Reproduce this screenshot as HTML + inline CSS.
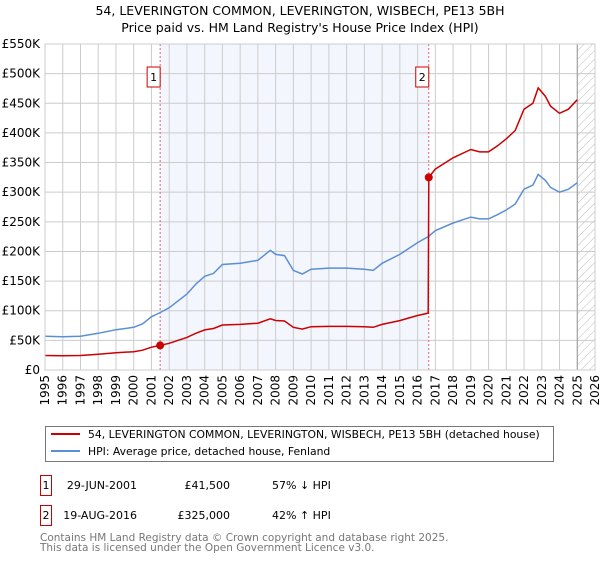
<!DOCTYPE html>
<html><head><meta charset="utf-8"><style>
body{margin:0;background:#fff;font-family:"Liberation Sans","DejaVu Sans",sans-serif;}
svg text{font-family:"DejaVu Sans","Liberation Sans",sans-serif;}
</style></head><body>
<svg id="chart" width="600" height="560" xmlns="http://www.w3.org/2000/svg">
<defs><pattern id="hatch" width="6" height="6" patternUnits="userSpaceOnUse" patternTransform="rotate(45)"><line x1="0" y1="0" x2="0" y2="6" stroke="#bbb" stroke-width="1"/></pattern></defs>
<text x="300" y="15" text-anchor="middle" font-size="12.5">54, LEVERINGTON COMMON, LEVERINGTON, WISBECH, PE13 5BH</text>
<text x="300" y="32" text-anchor="middle" font-size="12.5">Price paid vs. HM Land Registry's House Price Index (HPI)</text>
<g id="plot"></g>
<g>
<rect x="45.5" y="426.5" width="508" height="35" fill="#fff" stroke="#777"/>
<line x1="51" y1="434" x2="80" y2="434" stroke="#cc0000" stroke-width="2"/>
<text x="88" y="438" font-size="10.8">54, LEVERINGTON COMMON, LEVERINGTON, WISBECH, PE13 5BH (detached house)</text>
<line x1="51" y1="451" x2="80" y2="451" stroke="#5b8fd4" stroke-width="2"/>
<text x="88" y="455" font-size="10.8">HPI: Average price, detached house, Fenland</text>
</g>
<g font-size="11">
<rect x="40.5" y="475.5" width="11" height="20" fill="#fff" stroke="#cc0000"/><text x="46" y="489" text-anchor="middle">1</text>
<text x="137" y="489" text-anchor="end">29-JUN-2001</text><text x="230" y="489" text-anchor="end">£41,500</text><text x="272" y="489">57% ↓ HPI</text>
<rect x="40.5" y="505.5" width="11" height="20" fill="#fff" stroke="#cc0000"/><text x="46" y="519" text-anchor="middle">2</text>
<text x="137" y="519" text-anchor="end">19-AUG-2016</text><text x="230" y="519" text-anchor="end">£325,000</text><text x="272" y="519">42% ↑ HPI</text>
</g>
<text x="40" y="541" font-size="10.5" fill="#777">Contains HM Land Registry data © Crown copyright and database right 2025.</text>
<text x="40" y="551" font-size="10.5" fill="#777">This data is licensed under the Open Government Licence v3.0.</text>
</svg>
<script>
const years=[1995,1996,1997,1998,1999,2000,2001,2002,2003,2004,2005,2006,2007,2008,2009,2010,2011,2012,2013,2014,2015,2016,2017,2018,2019,2020,2021,2022,2023,2024,2025,2026];
const yTicks=[0,50,100,150,200,250,300,350,400,450,500,550];
const yTickLabels=["£0","£50K","£100K","£150K","£200K","£250K","£300K","£350K","£400K","£450K","£500K","£550K"];
const hpiT=[1995,1996,1997,1998,1999,2000,2000.5,2001,2001.5,2002,2003,2003.5,2004,2004.5,2005,2006,2007,2007.7,2008,2008.5,2009,2009.5,2010,2011,2012,2013,2013.5,2014,2015,2015.5,2016,2016.6,2017,2018,2019,2019.5,2020,2020.5,2021,2021.5,2022,2022.5,2022.8,2023.2,2023.5,2024,2024.5,2025];
const hpiV=[57,56,57,62,68,72,78,90,97,105,128,145,158,163,178,180,185,202,195,193,168,162,170,172,172,170,168,180,195,205,215,225,235,248,258,255,255,262,270,280,305,312,330,320,308,300,305,316];
const redT=[1995,1996,1997,1998,1999,2000,2000.5,2001,2001.49,2002,2003,2003.5,2004,2004.5,2005,2006,2007,2007.7,2008,2008.5,2009,2009.5,2010,2011,2012,2013,2013.5,2014,2015,2015.5,2016,2016.6,2016.63,2017,2018,2019,2019.5,2020,2020.5,2021,2021.5,2022,2022.5,2022.8,2023.2,2023.5,2024,2024.5,2025];
const redV=[24.4,24,24.4,26.5,29,30.8,33.4,38.5,41.5,45,55,62,67.6,70,76,77,79,86.4,83.5,82.6,72,69,73,73.6,73.6,72.8,72,77,83.4,87.7,92,96,325,339,358,372,368,368,378,390,404,440,450,476,462,445,433,440,456];
const sales=[{t:2001.49,v:41.5,n:"1"},{t:2016.63,v:325,n:"2"}];
const X0=45,X1=595,Y0=370,Y1=44;
const x=t=>X0+(t-1995)/(2026-1995)*(X1-X0);
const y=v=>Y0-v/550*(Y0-Y1);
const NS="http://www.w3.org/2000/svg";
const g=document.getElementById('plot');
function mk(tag,attrs,parent){const e=document.createElementNS(NS,tag);for(const k in attrs)e.setAttribute(k,attrs[k]);(parent||g).appendChild(e);return e;}
let r=mk('rect',{x:x(sales[0].t),y:Y1,width:x(sales[1].t)-x(sales[0].t),height:Y0-Y1,fill:'#f3f6fd'});


let h=mk('rect',{x:x(2025),y:Y1,width:X1-x(2025),height:Y0-Y1,fill:'url(#hatch)'});


years.forEach(yr=>{let l=mk('line',{x1:x(yr),x2:x(yr),y1:Y1,y2:Y0,stroke:'#ccc'});


let t=mk('text',{x:0,y:0,'font-size':12,'text-anchor':'end',transform:`translate(${x(yr)+4},${Y0+5}) rotate(-90)`});t.textContent=yr;

});
yTicks.forEach((v,i)=>{let l=mk('line',{x1:X0,x2:X1,y1:y(v),y2:y(v),stroke:'#ccc'});


let t=mk('text',{x:40,y:y(v)+4,'font-size':12,'text-anchor':'end'});t.textContent=yTickLabels[i];

});
let vl=mk('line',{x1:x(2025),x2:x(2025),y1:Y1,y2:Y0,stroke:'#999','stroke-width':1});


sales.forEach(s=>{let l=mk('line',{x1:x(s.t),x2:x(s.t),y1:Y1,y2:Y0,stroke:'#e06070','stroke-dasharray':'2,2'});

});
const path=(T,V)=>T.map((t,i)=>(i?'L':'M')+x(t).toFixed(1)+','+y(V[i]).toFixed(1)).join('');
let hp=mk('path',{d:path(hpiT,hpiV),fill:'none',stroke:'#5b8fd4','stroke-width':1.5});


let rp=mk('path',{d:path(redT,redV),fill:'none',stroke:'#cc0000','stroke-width':1.5});


sales.forEach(s=>{let c=mk('circle',{cx:x(s.t),cy:y(s.v),r:4,fill:'#cc0000'});


let b=mk('rect',{x:x(s.t)-13,y:67,width:13,height:20,fill:'#fff',stroke:'#cc0000'});


let t=mk('text',{x:x(s.t)-6.5,y:81,'font-size':11,'text-anchor':'middle'});t.textContent=s.n;

});
let fr=mk('rect',{x:X0,y:Y1,width:X1-X0,height:Y0-Y1,fill:'none',stroke:'#ccc'});


</script>
</body></html>
